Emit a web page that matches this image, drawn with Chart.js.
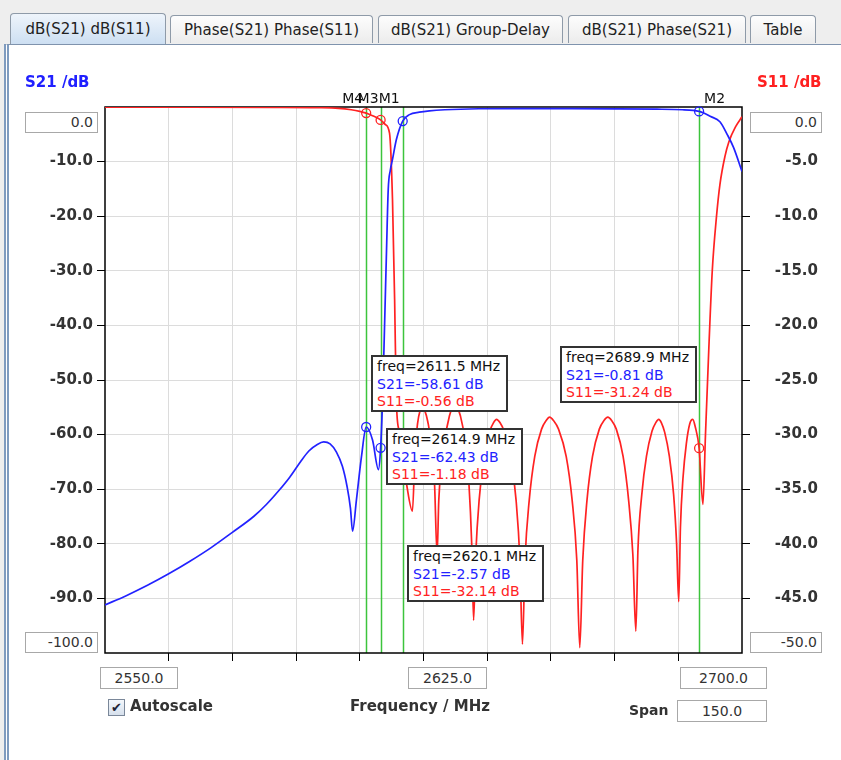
<!DOCTYPE html>
<html>
<head>
<meta charset="utf-8">
<script src="https://cdn.jsdelivr.net/npm/chart.js@4.4.0/dist/chart.umd.min.js"></script>
<style>
  body { margin: 0; width: 841px; height: 760px; overflow: hidden; background: #eeeeee; font-family: "DejaVu Sans", sans-serif; position: relative; }
  .tab { position: absolute; top: 15px; height: 28px; border: 1px solid #8e9aa8; border-bottom: none; border-radius: 4px 4px 0 0; background: linear-gradient(#fdfdfd, #ececec); font-size: 15px; line-height: 28px; text-align: center; color: #222; box-sizing: border-box; }
  .tab.sel { top: 13px; height: 31px; line-height: 30px; background: linear-gradient(#eef4fb, #cddff2); }
  #panel { position: absolute; left: 4px; top: 44px; right: 0; bottom: 0; background: #fff; border-top: 1px solid #7f93ad; border-left: 5px double #7f9bbf; }
  canvas { position: absolute; left: 0; top: 0; }
  .box { position: absolute; background: #fff; border: 1px solid #a8a8a8; font-size: 14px; color: #333; box-sizing: border-box; padding: 0 4px; white-space: nowrap; }
  .note { position: absolute; background: #fff; border: 2px solid #333; font-size: 14px; line-height: 17.5px; padding: 1px 4px; box-sizing: border-box; white-space: nowrap; width: 137px; height: 57px; }
  .lbl { position: absolute; font-weight: bold; font-size: 14px; color: #333; white-space: nowrap; }
</style>
</head>
<body>
<div class="tab sel" style="left:10px;width:156px;">dB(S21) dB(S11)</div>
<div class="tab" style="left:170px;width:203px;">Phase(S21) Phase(S11)</div>
<div class="tab" style="left:378px;width:185px;">dB(S21) Group-Delay</div>
<div class="tab" style="left:568px;width:178px;">dB(S21) Phase(S21)</div>
<div class="tab" style="left:750px;width:66px;">Table</div>
<div id="panel"></div>
<canvas id="chart" width="841" height="760"></canvas>

<div class="lbl" style="left:25px;top:73px;color:#2020ff;font-size:15px;">S21 /dB</div>
<div class="lbl" style="left:757px;top:73px;color:#ff2020;font-size:15px;">S11 /dB</div>

<div class="box" style="left:25px;top:112px;width:73px;height:21px;text-align:right;line-height:19px;">0.0</div>
<div class="box" style="left:25px;top:632px;width:73px;height:21px;text-align:right;line-height:19px;">-100.0</div>
<div class="box" style="left:750px;top:112px;width:72px;height:21px;text-align:right;line-height:19px;">0.0</div>
<div class="box" style="left:750px;top:632px;width:72px;height:21px;text-align:right;line-height:19px;">-50.0</div>

<div class="box" style="left:100px;top:667px;width:78px;height:22px;text-align:center;line-height:20px;">2550.0</div>
<div class="box" style="left:408px;top:667px;width:79px;height:22px;text-align:center;line-height:20px;">2625.0</div>
<div class="box" style="left:680px;top:667px;width:87px;height:22px;text-align:center;line-height:20px;">2700.0</div>
<div class="box" style="left:677px;top:700px;width:90px;height:22px;text-align:center;line-height:20px;">150.0</div>

<div class="box" style="left:108px;top:699px;width:17px;height:17px;padding:0;text-align:center;line-height:16px;font-size:13px;color:#223;background:linear-gradient(#f4f7fb,#d6e0ec);border-color:#7a8799;">✔</div>
<div class="lbl" style="left:130px;top:697px;font-size:15px;">Autoscale</div>
<div class="lbl" style="left:350px;top:697px;font-size:15px;">Frequency / MHz</div>
<div class="lbl" style="left:629px;top:702px;">Span</div>

<div id="notes"></div>

<script>
// S21 trace (left axis, dB)
const s21Freq = [2550, 2555, 2560, 2565, 2570, 2575, 2580, 2585, 2588, 2591, 2593.5, 2596, 2598, 2600, 2601.5,
  2603, 2604.5, 2605.9, 2607, 2607.8, 2608.3, 2609.2, 2610.4, 2611.5, 2613, 2614.4, 2614.9, 2615.3, 2615.8,
  2616.3, 2616.7, 2617.2, 2617.7, 2618.6, 2620.1, 2621.7, 2624, 2626.4, 2630, 2638, 2650, 2660, 2670, 2680,
  2686, 2688.5, 2689.9, 2691, 2692.5, 2694.8, 2696.5, 2698, 2700];
const s21Db = [-91.2, -89.5, -87.6, -85.5, -83.2, -80.7, -77.9, -75.0, -72.8, -70.2, -67.8, -65.0, -63.0, -61.8, -61.35,
  -61.7, -63.2, -65.8, -69.5, -73.5, -77.7, -72.0, -64.0, -58.61, -61.0, -66.4, -62.43, -55.0, -41.0,
  -26.0, -15.0, -11.5, -9.6, -6.0, -2.57, -1.4, -0.95, -0.7, -0.5, -0.32, -0.28, -0.3, -0.33, -0.4,
  -0.5, -0.62, -0.81, -1.1, -1.7, -2.7, -5.0, -7.4, -11.8];

// S11 trace (right axis, dB)
const s11Freq = [2550, 2570, 2590, 2600, 2605, 2608, 2610, 2611.5, 2613, 2614.9, 2616, 2617, 2617.7, 2618.2,
  2618.6, 2619.3, 2620.1, 2621, 2622.4,
  2623.0, 2623.6, 2624.2, 2624.7,
  2625.3, 2626.0, 2626.9, 2627.6, 2628.2,
  2628.6, 2629.2, 2630.0, 2631.1, 2631.8, 2632.3,
  2632.9, 2633.7, 2634.8, 2635.7, 2636.35, 2636.8,
  2637.3, 2638.1, 2639.2, 2640.6, 2641.5, 2642.2,
  2643.0, 2644.0, 2645.6, 2646.8, 2647.7, 2648.3,
  2648.9, 2649.9, 2651.2, 2652.8, 2653.9, 2654.7,
  2655.6, 2656.8, 2658.6, 2660.0, 2661.1, 2661.8,
  2662.5, 2663.5, 2664.8, 2666.4, 2667.5, 2668.4,
  2669.3, 2670.4, 2672.0, 2673.3, 2674.3, 2675.0,
  2675.5, 2676.4, 2677.5, 2678.8, 2679.7, 2680.4,
  2681.0, 2681.8, 2682.9, 2683.9, 2684.6, 2685.1,
  2685.5, 2686.1, 2686.9, 2687.7, 2688.4,
  2689.0, 2689.9, 2690.8, 2691.4, 2692.2, 2693, 2694, 2694.8, 2696, 2696.9, 2698.5, 2700];
const s11Db = [-0.02, -0.02, -0.03, -0.06, -0.12, -0.25, -0.4, -0.56, -0.8, -1.18, -1.6, -2.4, -8.5, -17.6,
  -26.8, -29.8, -32.14, -34.5, -37.0,
  -31.5, -29.0, -27.8, -27.5,
  -27.8, -28.8, -31.0, -34.5, -41.0,
  -36.0, -33.0, -30.5, -28.3, -27.5, -27.2,
  -27.5, -28.3, -30.6, -34.5, -40.0, -47.0,
  -41.0, -36.0, -32.2, -29.7, -28.9, -28.6,
  -28.9, -29.7, -32.2, -36.0, -41.5, -49.2,
  -41.5, -36.0, -32.0, -29.5, -28.7, -28.4,
  -28.7, -29.5, -32.0, -36.0, -41.5, -49.5,
  -41.5, -36.0, -32.0, -29.5, -28.7, -28.4,
  -28.7, -29.5, -32.0, -36.0, -41.0, -48.0,
  -40.5, -35.5, -32.0, -29.7, -28.9, -28.6,
  -28.9, -29.8, -32.0, -35.5, -40.0, -45.3,
  -38.5, -34.0, -30.8, -29.0, -28.6,
  -29.3, -31.24, -36.4, -30.0, -22.0, -15.0, -10.0, -7.1, -4.5, -3.2, -1.8, -0.9];

// markers
const markerNames = ["M1", "M2", "M3", "M4"];
const markerFreq = [2620.1, 2689.9, 2614.9, 2611.5];
const markerS21 = [-2.57, -0.81, -62.43, -58.61];
const markerS11 = [-32.14, -31.24, -1.18, -0.56];

// axis ranges
const freqMin = 2550, freqMax = 2700, freqStep = 15;
const s21Min = -100, s21Max = 0, s21Step = 10;
const s11Min = -50, s11Max = 0, s11Step = 5;

const BLUE = "#2222ff";
const RED = "#ff2222";
const GREEN = "#3cc43c";

// label offsets for marker names / readout boxes (layout only)
const labelDx = [-24, 5, -23, -24];
const notePos = [[407, 545], [560, 346], [386, 428], [371, 355]];

const pts = (xs, ys) => xs.map((v, i) => ({ x: v, y: ys[i] }));

const edgeHidden = (lo, hi, col) => (c) =>
  c.tick && (c.tick.value === lo || c.tick.value === hi) ? "rgba(0,0,0,0)" : col;

const tickFont = { family: "DejaVu Sans", size: 15, weight: "bold" };

const markerPlugin = {
  id: "markers",
  beforeDatasetsDraw(chart) {
    const { ctx, chartArea: a, scales: { x } } = chart;
    ctx.save();
    ctx.strokeStyle = GREEN;
    ctx.lineWidth = 1.5;
    markerFreq.forEach((f) => {
      const px = Math.round(x.getPixelForValue(f)) + 0.5;
      ctx.beginPath();
      ctx.moveTo(px, a.top);
      ctx.lineTo(px, a.bottom);
      ctx.stroke();
    });
    ctx.strokeStyle = "#000";
    ctx.lineWidth = 1.5;
    ctx.strokeRect(a.left, a.top, a.right - a.left, a.bottom - a.top);
    ctx.fillStyle = "#111";
    ctx.font = '14px "DejaVu Sans"';
    markerNames.forEach((n, i) => {
      ctx.fillText(n, x.getPixelForValue(markerFreq[i]) + labelDx[i], a.top - 4);
    });
    ctx.restore();
  },
};

new Chart(document.getElementById("chart"), {
  type: "line",
  data: {
    datasets: [
      {
        label: "S21",
        data: pts(s21Freq, s21Db),
        yAxisID: "y",
        borderColor: BLUE,
        borderWidth: 1.7,
        pointRadius: 0,
        cubicInterpolationMode: "monotone",
      },
      {
        label: "S11",
        data: pts(s11Freq, s11Db),
        yAxisID: "y1",
        borderColor: RED,
        borderWidth: 1.7,
        pointRadius: 0,
        cubicInterpolationMode: "monotone",
      },
      {
        label: "S21 markers",
        data: pts(markerFreq, markerS21),
        yAxisID: "y",
        showLine: false,
        pointRadius: 4.5,
        pointBorderWidth: 1.3,
        pointBorderColor: BLUE,
        pointBackgroundColor: "rgba(0,0,0,0)",
        clip: false,
      },
      {
        label: "S11 markers",
        data: pts(markerFreq, markerS11),
        yAxisID: "y1",
        showLine: false,
        pointRadius: 4.5,
        pointBorderWidth: 1.3,
        pointBorderColor: RED,
        pointBackgroundColor: "rgba(0,0,0,0)",
        clip: false,
      },
    ],
  },
  options: {
    responsive: false,
    animation: false,
    devicePixelRatio: 1,
    layout: { padding: { left: 5, right: 23, top: 107, bottom: 97 } },
    plugins: { legend: { display: false }, tooltip: { enabled: false } },
    scales: {
      x: {
        type: "linear",
        min: freqMin,
        max: freqMax,
        ticks: { stepSize: freqStep, display: false },
        grid: { color: edgeHidden(freqMin, freqMax, "#dcdcdc"), tickColor: edgeHidden(freqMin, freqMax, "#000"), tickLength: 8, lineWidth: 1 },
        border: { display: false },
        afterFit: (s) => { s.height = 10; },
      },
      y: {
        position: "left",
        min: s21Min,
        max: s21Max,
        ticks: {
          stepSize: s21Step,
          font: tickFont,
          color: "#333",
          padding: 4,
          callback: (v) => (v === s21Min || v === s21Max ? "" : v.toFixed(1)),
        },
        grid: { color: edgeHidden(s21Min, s21Max, "#dcdcdc"), tickColor: edgeHidden(s21Min, s21Max, "#000"), tickLength: 8 },
        border: { display: false },
        afterFit: (s) => { s.width = 100; },
      },
      y1: {
        position: "right",
        min: s11Min,
        max: s11Max,
        ticks: {
          stepSize: s11Step,
          font: tickFont,
          color: "#333",
          crossAlign: "far",
          callback: (v) => (v === s11Min || v === s11Max ? "" : v.toFixed(1)),
        },
        grid: { drawOnChartArea: false, tickColor: edgeHidden(s11Min, s11Max, "#000"), tickLength: 8 },
        border: { display: false },
        afterFit: (s) => { s.width = 76; },
      },
    },
  },
  plugins: [markerPlugin],
});

// marker readout boxes
const notes = document.getElementById("notes");
markerNames.forEach((n, i) => {
  const d = document.createElement("div");
  d.className = "note";
  d.style.left = notePos[i][0] + "px";
  d.style.top = notePos[i][1] + "px";
  d.innerHTML =
    '<div style="color:#111">freq=' + markerFreq[i].toFixed(1) + " MHz</div>" +
    '<div style="color:' + BLUE + '">S21=' + markerS21[i].toFixed(2) + " dB</div>" +
    '<div style="color:' + RED + '">S11=' + markerS11[i].toFixed(2) + " dB</div>";
  notes.appendChild(d);
});
</script>
</body>
</html>
